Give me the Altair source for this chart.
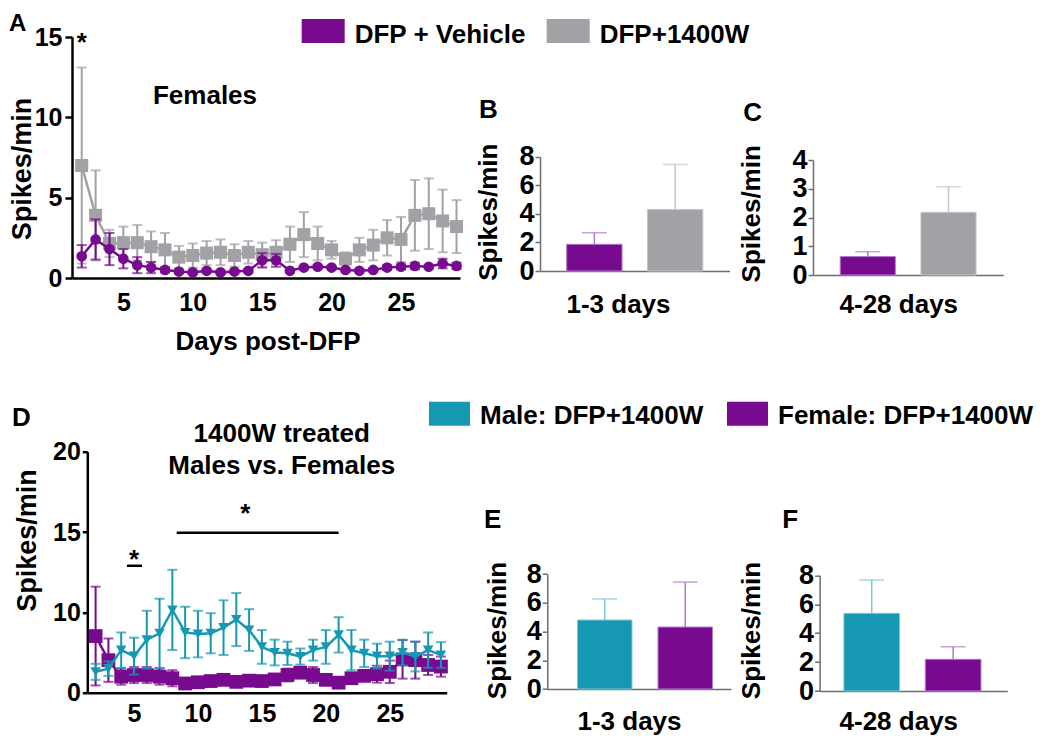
import altair as alt
import pandas as pd

FONT = "Liberation Sans"
BLACK = "#000000"
AXIS_GRAY = "#6E6E6E"
PURPLE = "#780A90"
PURPLE_L = "#B27ACB"
GRAY = "#A2A2A6"
GRAY_L = "#C6C6C9"
TEAL = "#1698B2"
TEAL_L = "#79CAD7"

days = list(range(2, 30))

# ---- Panel A: females, DFP + Vehicle vs DFP+1400W (mean, SEM) ----
a_veh_mean = [1.35, 2.4, 1.8, 1.2, 0.8, 0.65, 0.5, 0.4, 0.35, 0.45, 0.35, 0.4, 0.45, 1.1, 1.1,
              0.45, 0.65, 0.7, 0.65, 0.5, 0.45, 0.5, 0.65, 0.7, 0.75, 0.7, 0.9, 0.75]
a_veh_sem = [0.7, 1.25, 1.0, 0.6, 0.5, 0.35, 0.15, 0.1, 0.1, 0.1, 0.1, 0.1, 0.1, 0.45, 0.4,
             0.1, 0.1, 0.1, 0.1, 0.1, 0.1, 0.1, 0.15, 0.15, 0.2, 0.1, 0.3, 0.2]
a_w_mean = [7.0, 3.9, 2.15, 2.2, 2.2, 1.95, 1.75, 1.3, 1.4, 1.55, 1.6, 1.4, 1.6, 1.45, 1.6,
            2.1, 2.7, 2.15, 1.75, 1.2, 1.75, 2.05, 2.5, 2.4, 3.9, 4.0, 3.55, 3.2]
a_w_sem = [6.1, 2.8, 0.85, 1.0, 1.1, 0.95, 1.05, 0.7, 0.75, 0.75, 0.8, 0.7, 0.7, 0.75, 0.75,
           1.1, 1.4, 1.05, 0.55, 0.4, 0.75, 0.95, 1.1, 1.4, 2.2, 2.2, 1.95, 1.65]

# ---- Panel D: 1400W treated, males vs females ----
d_male_mean = [2.6, 3.0, 5.3, 4.55, 6.6, 7.4, 10.3, 7.5, 7.3, 7.4, 8.1, 9.1, 7.8, 5.7, 5.0,
               4.9, 4.5, 5.3, 5.7, 7.2, 5.3, 4.9, 4.55, 4.55, 5.0, 4.5, 5.3, 4.7]
d_male_sem = [1.0, 0.9, 2.2, 2.3, 3.6, 4.3, 5.0, 3.2, 2.9, 2.5, 3.4, 3.3, 2.6, 2.1, 1.6,
              1.45, 1.0, 1.3, 2.1, 2.2, 2.5, 1.7, 1.55, 1.8, 1.6, 1.85, 2.2, 1.6]
d_fem_mean = [7.05, 4.05, 2.0, 2.2, 2.2, 2.0, 1.8, 1.15, 1.3, 1.45, 1.6, 1.35, 1.5, 1.45, 1.65,
              2.2, 2.5, 2.2, 1.6, 1.25, 1.8, 2.1, 2.3, 2.6, 4.15, 4.05, 3.45, 3.25]
d_fem_sem = [6.15, 2.7, 1.0, 1.0, 1.0, 1.0, 1.0, 0.3, 0.3, 0.3, 0.3, 0.3, 0.3, 0.3, 0.3,
             0.8, 0.7, 1.0, 0.3, 0.2, 0.4, 0.5, 1.05, 1.4, 2.4, 2.3, 1.25, 1.25]
d_tick_values = [0, 10, 20, 30]

# ---- Bar panels (mean and upper SEM end) ----
top_groups = ["DFP + Vehicle", "DFP+1400W"]
b_mean = [1.87, 4.31]
b_upper = [2.68, 7.46]
c_mean = [0.64, 2.18]
c_upper = [0.81, 3.07]
bottom_groups = ["Male: DFP+1400W", "Female: DFP+1400W"]
e_mean = [4.8, 4.31]
e_upper = [6.26, 7.44]
f_mean = [5.37, 2.19]
f_upper = [7.68, 3.06]

# ---- significance annotations ----
a_star_day = [2]
a_star_y = [15]
d_star_day = [5, 13.7]
d_star_y = [17.4, 23.1]
d_line_start = [4.45, 8.34]
d_line_end = [5.63, 21.0]
d_line_y = [15.8, 19.9]


def txt_layer(txt, x, y, size=26, align="left", baseline="alphabetic", line_height=None):
    kw = dict(font=FONT, fontSize=size, fontWeight="bold", color=BLACK, align=align, baseline=baseline)
    if line_height:
        kw["lineBreak"] = "\n"
        kw["lineHeight"] = line_height
    return alt.Chart(pd.DataFrame({"t": [txt]})).mark_text(**kw).encode(
        text="t:N", x=alt.value(x), y=alt.value(y))


def y_axis_line(values, tx, ty, offset=0, label_expr=None, tick=7, pad=3):
    kw = dict(values=values, title="Spikes/min", titleX=tx, titleY=ty, titleAngle=270,
              titleAlign="center", titleBaseline="middle", titleFont=FONT, titleFontSize=27,
              titleFontWeight="bold", titleColor=BLACK, labelFont=FONT, labelFontSize=25,
              labelFontWeight="bold", labelColor=BLACK, labelPadding=pad, domainColor=BLACK,
              domainWidth=2.5, tickColor=BLACK, tickWidth=2.5, tickSize=tick, grid=False,
              offset=offset, labelOverlap=False)
    if label_expr:
        kw["labelExpr"] = label_expr
    return alt.Axis(**kw)


def series_layers(mean, sem, xenc, yenc, color, err_color, shape, size, cap=10):
    df = pd.DataFrame({"day": days, "mean": mean,
                       "lo": [m - s for m, s in zip(mean, sem)],
                       "hi": [m + s for m, s in zip(mean, sem)]})
    base = alt.Chart(df)
    err = base.mark_rule(color=err_color, strokeWidth=2).encode(
        x=xenc("day"), y=yenc("lo"), y2="hi:Q")
    cap_lo = base.mark_tick(color=err_color, orient="horizontal", size=cap, thickness=2).encode(
        x=xenc("day"), y=yenc("lo"))
    cap_hi = base.mark_tick(color=err_color, orient="horizontal", size=cap, thickness=2).encode(
        x=xenc("day"), y=yenc("hi"))
    line = base.mark_line(color=color, strokeWidth=2.5).encode(x=xenc("day"), y=yenc("mean"))
    pts = base.mark_point(color=color, filled=True, opacity=1, shape=shape, size=size).encode(
        x=xenc("day"), y=yenc("mean"))
    return [err, cap_lo, cap_hi, line, pts]


# ================= Panel A =================
xsA = alt.Scale(domain=[1.3, 29.25], range=[0, 388], nice=False, zero=False)
xaxA = alt.Axis(values=[5, 10, 15, 20, 25], title="Days post-DFP", titleX=195.5, titleY=50,
                titleAlign="center", titleBaseline="top", titleFont=FONT, titleFontSize=26,
                titleFontWeight="bold", titleColor=BLACK, labelFont=FONT, labelFontSize=25,
                labelFontWeight="bold", labelColor=BLACK, labelPadding=12, ticks=False,
                labelFlush=False, labelOverlap=False, domainColor=BLACK, domainWidth=2.5, grid=False)
ysA = alt.Scale(domain=[0, 15], nice=False, zero=False)
yaxA = y_axis_line([0, 5, 10, 15], -50, 131.5)


def xA(f):
    return alt.X(f + ":Q", scale=xsA, axis=xaxA)


def yA(f):
    return alt.Y(f + ":Q", scale=ysA, axis=yaxA)


a_layers = series_layers(a_w_mean, a_w_sem, xA, yA, GRAY, GRAY, "square", 170)
a_layers += series_layers(a_veh_mean, a_veh_sem, xA, yA, PURPLE, PURPLE, "circle", 115)
a_star = alt.Chart(pd.DataFrame({"day": a_star_day, "y": a_star_y, "t": ["*"] * len(a_star_day)})).mark_text(
    font=FONT, fontSize=26, fontWeight="bold", color=BLACK, align="center", baseline="alphabetic", dy=14
).encode(x=xA("day"), y=yA("y"), text="t:N")
# invisible corner anchor so the page's top-left corner is fixed
anchor = alt.Chart(pd.DataFrame({"t": [""]})).mark_rule(strokeWidth=1, opacity=0).encode(
    x=alt.value(-63.5), x2=alt.value(-62.5), y=alt.value(-28.5))
a_layers += [a_star, txt_layer("Females", 133, 67, align="center"), txt_layer("A", -63, -6.5, size=24), anchor]
panelA = alt.layer(*a_layers).properties(width=468, height=241)

# ================= Panel D =================
xsD = alt.Scale(domain=[1.35, 29.45], range=[15.3, 374.7], nice=False, zero=False)
xaxD = alt.Axis(values=[5, 10, 15, 20, 25], title=None, labelFont=FONT, labelFontSize=25,
                labelFontWeight="bold", labelColor=BLACK, labelPadding=8.5, ticks=False,
                labelFlush=False, labelOverlap=False, domainColor=BLACK, domainWidth=2.5, grid=False)
ysD = alt.Scale(domain=[0, 30], nice=False, zero=False)
yaxD = y_axis_line(d_tick_values, -59.8, 88.3, offset=-15.3,
                   label_expr="datum.value == 20 ? '15' : datum.value == 30 ? '20' : datum.label",
                   tick=5, pad=2)


def xD(f):
    return alt.X(f + ":Q", scale=xsD, axis=xaxD)


def yD(f):
    return alt.Y(f + ":Q", scale=ysD, axis=yaxD)


d_layers = series_layers(d_fem_mean, d_fem_sem, xD, yD, PURPLE, PURPLE, "square", 190)
d_layers += series_layers(d_male_mean, d_male_sem, xD, yD, TEAL, TEAL, "triangle-down", 110)
sig_df = pd.DataFrame({"x1": d_line_start, "x2": d_line_end, "y": d_line_y})
d_sig = alt.Chart(sig_df).mark_rule(color=BLACK, strokeWidth=2.5).encode(
    x=xD("x1"), x2="x2:Q", y=yD("y"))
d_star = alt.Chart(pd.DataFrame({"day": d_star_day, "y": d_star_y, "t": ["*"] * len(d_star_day)})).mark_text(
    font=FONT, fontSize=26, fontWeight="bold", color=BLACK, align="center", baseline="alphabetic", dy=15
).encode(x=xD("day"), y=yD("y"), text="t:N")
d_layers += [d_sig, d_star,
             txt_layer("1400W treated\nMales vs. Females", 209.7, -9.4, align="center", line_height=31.7),
             txt_layer("D", -60, -25.7)]
panelD = alt.layer(*d_layers).properties(width=468, height=241)


# ================= Bar panels =================
def bar_panel(groups, means, uppers, fills, lights, yvals, ymax, yrange, width, xr0, xr1,
              pin, pout, palign, xtitle, xtx, xty, ytx, yty, xoff, yoff, legend, letter, lx, ly):
    df = pd.DataFrame({"group": groups, "mean": means, "upper": uppers, "ec": lights})
    xs = alt.Scale(domain=groups, range=[xr0, xr1], paddingInner=pin, paddingOuter=pout, align=palign)
    xax = alt.Axis(labels=False, ticks=False, domainColor=AXIS_GRAY, domainWidth=1.5, title=xtitle,
                   titleX=xtx, titleY=xty, titleAlign="center", titleBaseline="top", titleFont=FONT,
                   titleFontSize=26, titleFontWeight="bold", titleColor=BLACK, offset=xoff, grid=False)
    ys = alt.Scale(domain=[0, ymax], range=yrange, nice=False, zero=False)
    yax = alt.Axis(values=yvals, title="Spikes/min", titleX=ytx, titleY=yty, titleAngle=270,
                   titleAlign="center", titleBaseline="middle", titleFont=FONT, titleFontSize=26,
                   titleFontWeight="bold", titleColor=BLACK, labelFont=FONT, labelFontSize=27,
                   labelFontWeight="bold", labelColor=BLACK, labelPadding=1, domainColor=AXIS_GRAY,
                   domainWidth=1.5, tickColor=AXIS_GRAY, tickWidth=1.5, tickSize=5, grid=False,
                   labelOverlap=False, offset=yoff)
    X = alt.X("group:N", sort=groups, scale=xs, axis=xax)
    base = alt.Chart(df)
    bars = base.mark_bar(strokeWidth=1).encode(
        x=X, y=alt.Y("mean:Q", scale=ys, axis=yax),
        color=alt.Color("group:N", scale=alt.Scale(domain=groups, range=fills), legend=legend),
        stroke=alt.Stroke("ec:N", scale=None))
    err = base.mark_rule(strokeWidth=1.5).encode(
        x=X, y=alt.Y("mean:Q", scale=ys, axis=yax), y2="upper:Q", stroke=alt.Stroke("ec:N", scale=None))
    cap = base.mark_tick(orient="horizontal", size=25, thickness=1.5).encode(
        x=X, y=alt.Y("upper:Q", scale=ys, axis=yax), fill=alt.Fill("ec:N", scale=None))
    return alt.layer(bars, err, cap, txt_layer(letter, lx, ly)).properties(width=width, height=241)


legB = alt.Legend(title=None, orient="none", legendX=-238.3, legendY=-23.5, direction="horizontal",
                  symbolType="M-1,-0.76L1,-0.76L1,0.36L-1,0.36Z", symbolSize=1849, symbolStrokeWidth=0,
                  symbolOpacity=1, labelFont=FONT, labelFontSize=26, labelFontWeight="bold",
                  labelColor=BLACK, labelOffset=10, labelLimit=400, columnPadding=20, padding=0)
legE = alt.Legend(title=None, orient="none", legendX=-111, legendY=-56.3, direction="horizontal",
                  symbolType="M-1,-0.70L1,-0.70L1,0.47L-1,0.47Z", symbolSize=1681, symbolStrokeWidth=0,
                  symbolOpacity=1, labelFont=FONT, labelFontSize=26, labelFontWeight="bold",
                  labelColor=BLACK, labelOffset=10, labelLimit=400, columnPadding=23, padding=0)

# cells: column 0 width 468 (B/E start at x=540), column 1 width 272.7 (C/F start at 812.7)
panelB = bar_panel(top_groups, b_mean, b_upper, [PURPLE, GRAY], [PURPLE_L, GRAY_L], [0, 2, 4, 6, 8], 8,
                   [234, 119.7], 272.7, 0, 189.5, 0.315, 0.33, 0.5, "1-3 days", 78, 20, -52, 174.7, -7, 0,
                   legB, "B", -61, 81)
panelC = bar_panel(top_groups, c_mean, c_upper, [PURPLE, GRAY], [PURPLE_L, GRAY_L], [0, 1, 2, 3, 4], 4,
                   [238, 123], 190.3, 0, 190.3, 0.317, 0.337, 0.5, "4-28 days", 85.3, 16, -61.7, 176.3, -3, 0,
                   None, "C", -69.7, 84)
panelE = bar_panel(bottom_groups, e_mean, e_upper, [TEAL, PURPLE], [TEAL_L, PURPLE_L], [0, 2, 4, 6, 8], 8,
                   [237.3, 122.3], 272.7, 7.3, 191.0, 0.323, 0.3025, 0.62, "1-3 days", 89, 19.5, -50.3, 178.3,
                   -3.7, -7.3, legE, "E", -56, 76.3)
panelF = bar_panel(bottom_groups, f_mean, f_upper, [TEAL, PURPLE], [TEAL_L, PURPLE_L], [0, 2, 4, 6, 8], 8,
                   [239.3, 123.6], 194.3, 6.6, 194.3, 0.316, 0.311, 0.48, "4-28 days", 85.3, 17.5, -68.3, 178.3,
                   -1.7, -6.6, None, "F", -30.7, 76.3)

chart = alt.concat(panelA, panelB, panelC, panelD, panelE, panelF, columns=3,
                   spacing={"row": 173.7, "column": 0}, align="none", bounds="flush").resolve_scale(
    x="independent", y="independent", color="independent").configure_view(strokeWidth=0).properties(padding=0)

chart.save("out.html", embed_options={"renderer": "svg", "actions": False})
